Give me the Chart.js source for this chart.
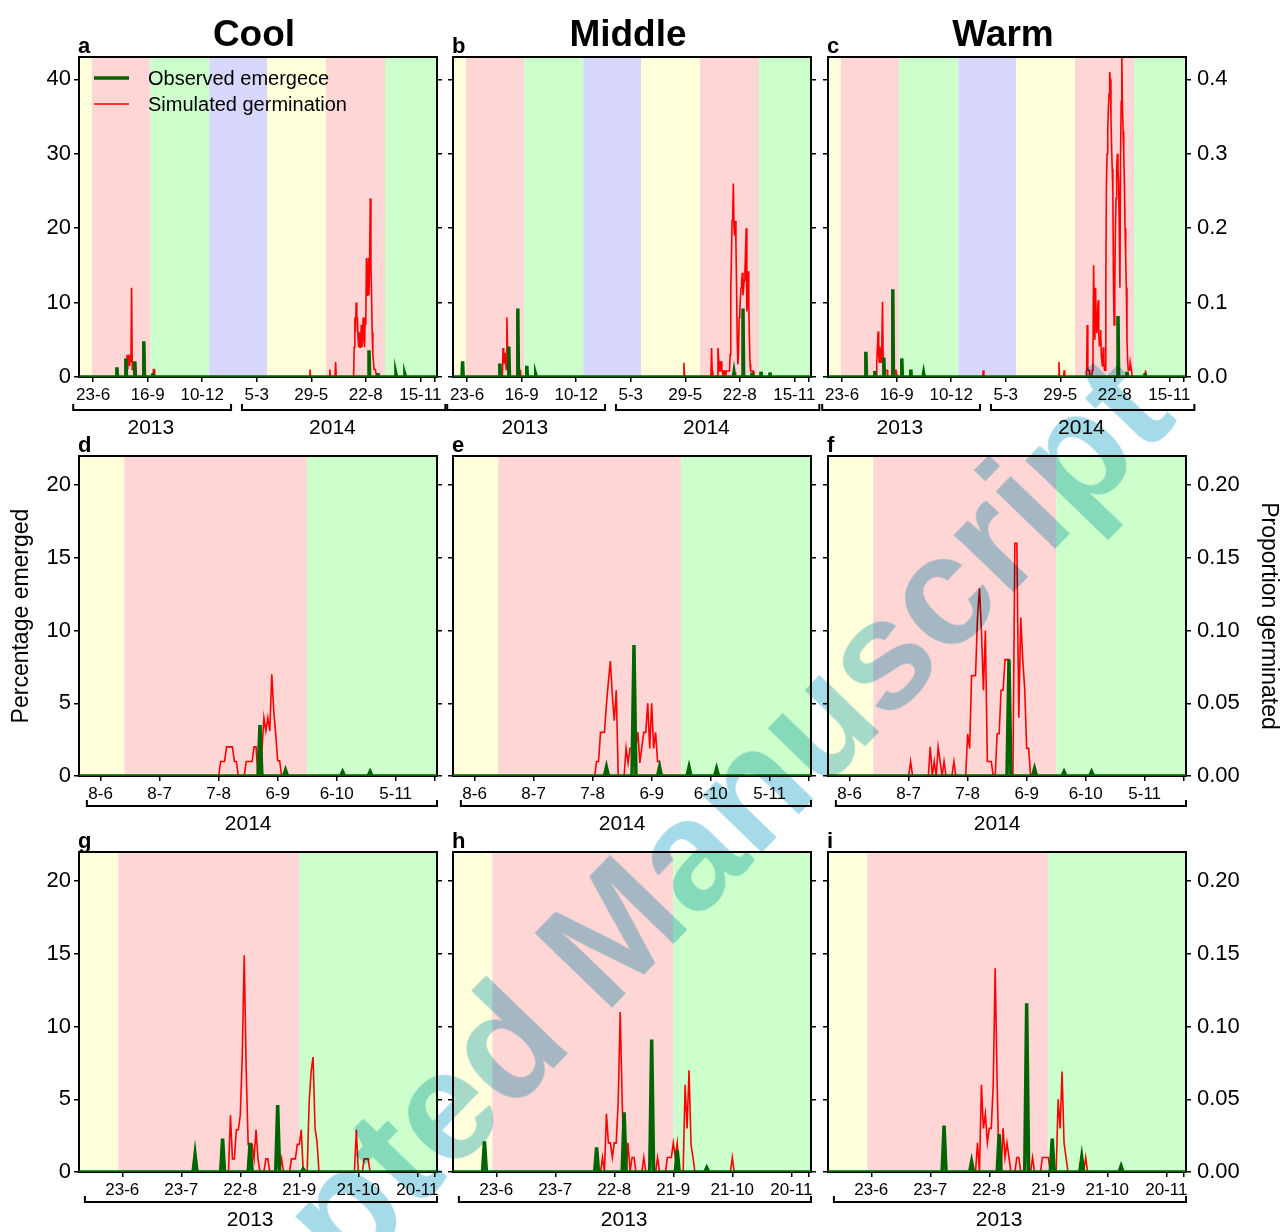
<!DOCTYPE html>
<html>
<head>
<meta charset="utf-8">
<script src="https://cdn.jsdelivr.net/npm/chart.js@4.4.1/dist/chart.umd.min.js"></script>
<style>
  body { margin: 0; background: #fff; width: 1282px; height: 1232px; position: relative; overflow: hidden; }
  canvas { position: absolute; }
  #wm {
    position: absolute; left: -4px; top: 1457px; white-space: nowrap;
    font: bold 155px 'Liberation Sans', Arial, sans-serif; line-height: 1;
    color: rgb(165, 218, 232); transform-origin: 0 0; transform: rotate(-46deg);
    mix-blend-mode: multiply; pointer-events: none;
  }
</style>
</head>
<body>
<div id="wm">Accepted Manuscript</div>
<script>
// x values are days: day 0 = 1 Jun 2013 (long runs and 2013 runs), 28 May 2014 (2014 runs)
const longTickDays = [22, 107, 192, 277, 362, 447, 532, 554];
const longTickLabels = ['23-6', '16-9', '10-12', '5-3', '29-5', '22-8', '15-11', ''];
const tickDays2014 = [11, 41, 71, 101, 131, 161, 181];
const tickLabels2014 = ['8-6', '8-7', '7-8', '6-9', '6-10', '5-11', ''];
const tickDays2013 = [22, 52, 82, 112, 142, 172, 181];
const tickLabels2013 = ['23-6', '23-7', '22-8', '21-9', '21-10', '20-11', ''];

const yTicksLong = [0, 10, 20, 30, 40];
const y1TicksLong = [0, 0.1, 0.2, 0.3, 0.4];
const yTicksShort = [0, 5, 10, 15, 20];
const y1TicksShort = [0, 0.05, 0.1, 0.15, 0.2];

// season bands: edges in days and fill colours
const YEL = 'rgb(255,255,220)', PNK = 'rgb(255,214,214)', GRN = 'rgb(204,255,204)', BLU = 'rgb(216,216,255)';
const seasonEdgesLong = [0, 20, 111, 203, 293, 385, 477, 558];
const seasonColorsLong = [YEL, PNK, GRN, BLU, YEL, PNK, GRN];
const seasonEdges2014 = [0, 23, 116, 182];
const seasonEdges2013 = [0, 20, 112, 182];
const seasonColorsShort = [YEL, PNK, GRN];

// year brackets: [from day, to day, label day, text]
const bracketsLong = [[-9, 237, 112, '2013'], [254, 571, 395, '2014']];
const brackets2014 = [[4, 182, 86, '2014']];
const brackets2013 = [[3, 182, 87, '2013']];

// observed emergence (%): [day, value]
const obsCool = [[59, 1.3], [73, 2.5], [87, 2.1], [101, 4.8], [115, 0.5], [452, 3.6], [466, 0.5], [494, 0.4], [508, 0.3]];
const obsMiddle = [[15, 2.1], [73, 1.8], [87, 4.1], [101, 9.2], [115, 1.5], [129, 0.3], [438, 0.6], [452, 9.2], [466, 0.6], [480, 0.7], [494, 0.6]];
const obsWarm = [[59, 3.4], [73, 0.8], [87, 2.6], [101, 11.8], [115, 2.5], [129, 1.0], [149, 0.5], [452, 8.2], [466, 0.7], [494, 0.5]];
const obsCool14 = [[92, 3.5], [105, 0.4], [134, 0.3], [148, 0.3]];
const obsMiddle14 = [[78, 0.6], [92, 9], [105, 0.6], [120, 0.6], [134, 0.5]];
const obsWarm14 = [[92, 8], [105, 0.5], [120, 0.3], [134, 0.3]];
const obsCool13 = [[59, 1.2], [73, 2.3], [87, 2], [101, 4.6], [114, 0.2]];
const obsMiddle13 = [[16, 2.1], [73, 1.7], [87, 4.1], [101, 9.1], [114, 1.5], [129, 0.3]];
const obsWarm13 = [[59, 3.2], [73, 0.7], [87, 2.6], [101, 11.6], [114, 2.3], [129, 1.0], [149, 0.4]];

// simulated germination (proportion): [first day, daily values]
const simCool = [
  [75, [0.03, 0.01, 0.03, 0.02, 0.015, 0.03, 0.02, 0.12, 0.01, 0.01, 0.01]],
  [116, [0.01, 0.01]],
  [360, [0.01]],
  [391, [0.01]],
  [400, [0.02]],
  [429, [0.04, 0.08, 0.06, 0.10, 0.08, 0.08, 0.05, 0.04, 0.06, 0.04, 0.05, 0.07, 0.04, 0.06, 0.08, 0.05, 0.04, 0.08,
         0.07, 0.16, 0.11, 0.12, 0.16, 0.11, 0.16, 0.24, 0.15, 0.11, 0.06, 0.03, 0.02, 0.01, 0.01, 0.01, 0.005]]
];
const simMiddle = [
  [78, [0.039, 0.019, 0.019, 0.033, 0.02, 0.01, 0.08, 0.039, 0.009, 0.009, 0.009]],
  [103, [0.009, 0.009, 0.009]],
  [360, [0.019]],
  [403, [0.039, 0.008]],
  [413, [0.039, 0.026, 0.008, 0.021, 0.008, 0.021, 0.008, 0.008, 0, 0.008, 0.008, 0.008, 0, 0.008, 0.008, 0.008,
         0.008, 0.008, 0.008, 0.03, 0.12, 0.16, 0.21, 0.22, 0.26, 0.2, 0.19, 0.21, 0.18, 0.12, 0.05, 0.017, 0.03,
         0.08, 0.09, 0.106, 0.12, 0.13, 0.14, 0.11, 0.12, 0.13, 0.14, 0.17, 0.2, 0.088, 0.1, 0.142, 0.097, 0.05,
         0.017, 0.008, 0.008, 0.008, 0.008, 0.008]]
];
const simWarm = [
  [76, [0.02, 0.04, 0.061, 0.03, 0.02, 0.041, 0.03, 0.02, 0.05, 0.101, 0.023, 0.01, 0.009, 0.009, 0.009, 0.009, 0.009]],
  [105, [0.009, 0.009, 0.009]],
  [242, [0.009]],
  [360, [0.02]],
  [368, [0.009]],
  [404, [0.07, 0.009, 0.009, 0.009]],
  [412, [0.009, 0.03, 0.15, 0.08, 0.05, 0.12, 0.08, 0.059, 0.08, 0.103, 0.06, 0.041, 0.05, 0.063, 0.03, 0.02, 0.014,
         0.04, 0.02, 0.009, 0.009, 0.12, 0.26, 0.3, 0.33, 0.36, 0.38, 0.41, 0.4, 0.35, 0.31, 0.28, 0.25, 0.12, 0.07,
         0.12, 0.2, 0.24, 0.28, 0.3, 0.28, 0.26, 0.2, 0.12, 0.3, 0.37, 0.43, 0.36, 0.33, 0.3, 0.26, 0.2, 0.16, 0.12,
         0.05, 0.023, 0.009, 0.009, 0.009, 0.02, 0.02, 0.009]],
  [495, [0.009]]
];
const simCool14 = [
  [72, [0.01, 0.01, 0.01, 0.02, 0.02, 0.02, 0.02, 0.01, 0.01]],
  [85, [0.01, 0.01, 0.01, 0.01, 0.02, 0.02]],
  [93, [0.017, 0.04, 0.031, 0.04, 0.031, 0.07, 0.045, 0.029, 0.0105, 0.0105]]
];
const simMiddle14 = [
  [73, [0.01, 0.01, 0.03, 0.03, 0.03, 0.049, 0.065, 0.079, 0.055, 0.038, 0.059]],
  [88, [0.019, 0.009, 0.019, 0.019, 0.01, 0.02, 0.03, 0.009, 0.02, 0.03, 0.03, 0.05, 0.019, 0.05, 0.019, 0.03, 0.01, 0.01]]
];
const simWarm14 = [
  [42, [0.01]],
  [52, [0.02, 0, 0.01, 0, 0.02, 0.01]],
  [59, [0.01]],
  [64, [0.01]],
  [71, [0.029, 0.019, 0.069, 0.069, 0.069, 0.109, 0.129, 0.1, 0.059, 0.1, 0.01, 0.01, 0.01, 0, 0, 0.029, 0.029,
        0.059, 0.059, 0.08, 0.08, 0.08, 0, 0, 0.16, 0.16, 0.04, 0.109, 0.08, 0.06, 0.019, 0.019]]
];
const simCool13 = [
  [77, [0.039, 0.009, 0.009, 0.029, 0.029, 0.039, 0.08, 0.149, 0.07, 0.019, 0.019, 0.019, 0.009, 0.029, 0.009]],
  [95, [0.009, 0.009]],
  [103, [0.009]],
  [108, [0.009, 0.009, 0.009, 0.019, 0.019, 0.029]],
  [117, [0.048, 0.069, 0.079, 0.03, 0.021]],
  [141, [0.029]],
  [145, [0.009, 0.009, 0.009]]
];
const simMiddle13 = [
  [76, [0.01]],
  [78, [0.04, 0.02, 0.02, 0.01, 0.02, 0.02, 0.049, 0.11, 0.049]],
  [89, [0.02]],
  [91, [0.01, 0.01]],
  [97, [0.01]],
  [104, [0.01]],
  [109, [0.01, 0.01, 0.01, 0.02, 0.01, 0.02]],
  [118, [0.06, 0.03, 0.07, 0.019, 0.01]],
  [142, [0.01]]
];
const simWarm13 = [
  [76, [0.02]],
  [78, [0.06, 0.03, 0.04, 0.02, 0.03, 0.03, 0.06, 0.14, 0.06]],
  [89, [0.03, 0.01, 0.02, 0.01]],
  [96, [0.01, 0.01]],
  [104, [0.01]],
  [109, [0.01, 0.01, 0.01, 0.01]],
  [117, [0.05, 0.03, 0.069, 0.02, 0.01]],
  [131, [0.01]]
];

const FONT = "'Liberation Sans', Arial, Helvetica, sans-serif";
Chart.defaults.font.family = FONT;
Chart.defaults.color = '#000';

const AXL = 79, AXR = 100, PADT = 57, AXB = 66, PW = 358, PH = 320;
const colLeft = [79, 453, 828];
const rowTop = [57, 456, 852];

// daily series: zero on days without a value
function runsToPoints(runs, end) {
  const pts = [{x: 0, y: 0}];
  runs.forEach(([start, vals]) => {
    pts.push({x: start - 1, y: 0});
    vals.forEach((v, i) => pts.push({x: start + i, y: v}));
    pts.push({x: start + vals.length, y: 0});
  });
  pts.push({x: end, y: 0});
  return pts;
}

function yScale(pos, max, ticks, fmt, labels, title) {
  return {
    type: 'linear', position: pos, min: 0, max: max,
    afterBuildTicks: s => { s.ticks = ticks.map(v => ({value: v})); },
    afterFit: s => { s.width = pos === 'left' ? AXL : AXR; },
    grid: {drawOnChartArea: false, drawTicks: true, tickLength: 5, color: '#000', lineWidth: 1.5},
    border: {display: true, color: '#000', width: 2},
    ticks: {display: labels, callback: fmt, font: {size: 22}, padding: pos === 'left' ? 3 : 6},
    title: title ? {display: true, text: title, font: {size: 23}, padding: {top: pos === 'left' ? 8 : 4, bottom: 0}} : {display: false}
  };
}

function makePanel(p) {
  const cv = document.createElement('canvas');
  cv.width = AXL + PW + AXR;
  cv.height = PADT + PH + AXB;
  cv.style.left = (p.left - AXL) + 'px';
  cv.style.top = (p.top - PADT) + 'px';
  document.body.appendChild(cv);

  const bands = {
    id: 'bands',
    beforeDraw(chart) {
      const {ctx, chartArea: a, scales: {x}} = chart;
      ctx.save();
      for (let i = 0; i < p.colors.length; i++) {
        const x0 = x.getPixelForValue(p.edges[i]);
        const x1 = x.getPixelForValue(p.edges[i + 1]);
        ctx.fillStyle = p.colors[i];
        ctx.fillRect(x0, a.top, x1 - x0, a.bottom - a.top);
      }
      ctx.restore();
    }
  };

  const decor = {
    id: 'decor',
    afterDraw(chart) {
      const {ctx, chartArea: a, scales: {x}} = chart;
      ctx.save();
      // top edge of the frame
      ctx.strokeStyle = '#000';
      ctx.lineWidth = 2;
      ctx.beginPath();
      ctx.moveTo(a.left - 1, a.top);
      ctx.lineTo(a.right + 1, a.top);
      ctx.stroke();

      ctx.fillStyle = '#000';
      ctx.font = 'bold 22px ' + FONT;
      ctx.textAlign = 'left';
      ctx.textBaseline = 'alphabetic';
      ctx.fillText(p.letter, a.left - 1, a.top - 4);

      if (p.title) {
        ctx.font = 'bold 37px ' + FONT;
        ctx.textAlign = 'center';
        ctx.fillText(p.title, (a.left + a.right) / 2 - 4, a.top - 11);
      }

      if (p.legend) {
        const ds = chart.data.datasets;
        ctx.font = '20px ' + FONT;
        ctx.textAlign = 'left';
        ctx.textBaseline = 'middle';
        ds.forEach((d, i) => {
          const yy = a.top + 21 + i * 26;
          ctx.strokeStyle = d.borderColor;
          ctx.lineWidth = d.borderWidth;
          ctx.beginPath();
          ctx.moveTo(a.left + 15, yy);
          ctx.lineTo(a.left + 50, yy);
          ctx.stroke();
          ctx.fillStyle = '#000';
          ctx.fillText(d.label, a.left + 69, yy + 1);
        });
      }

      // year brackets under the date labels
      ctx.strokeStyle = '#000';
      ctx.lineWidth = 2;
      ctx.fillStyle = '#000';
      ctx.font = '21px ' + FONT;
      ctx.textAlign = 'center';
      ctx.textBaseline = 'middle';
      p.brackets.forEach(([d0, d1, dl, txt]) => {
        const x0 = x.getPixelForValue(d0), x1 = x.getPixelForValue(d1);
        const by = a.bottom + p.bracketGap;
        ctx.beginPath();
        ctx.moveTo(x0, by - 6);
        ctx.lineTo(x0, by);
        ctx.lineTo(x1, by);
        ctx.lineTo(x1, by - 6);
        ctx.stroke();
        ctx.fillText(txt, x.getPixelForValue(dl), by + 18);
      });
      ctx.restore();
    }
  };

  new Chart(cv, {
    type: 'line',
    data: {
      datasets: [
        {label: 'Observed emergece', data: runsToPoints(p.obs.map(([d, v]) => [d, [v]]), p.xMax), yAxisID: 'y',
         borderColor: 'rgb(0,100,0)', borderWidth: 3.5, pointRadius: 0, tension: 0},
        {label: 'Simulated germination', data: runsToPoints(p.sim, p.xMax), yAxisID: 'y1',
         borderColor: 'rgb(255,0,0)', borderWidth: 1.6, pointRadius: 0, tension: 0}
      ]
    },
    options: {
      responsive: false, animation: false, devicePixelRatio: 1,
      layout: {padding: {top: PADT, left: 0, right: 0, bottom: 0}},
      plugins: {legend: {display: false}, tooltip: {enabled: false}},
      scales: {
        x: {
          type: 'linear', min: 0, max: p.xMax,
          afterBuildTicks: s => { s.ticks = p.tickDays.map(v => ({value: v})); },
          afterFit: s => { s.height = AXB; },
          ticks: {autoSkip: false, maxRotation: 0, callback: (v, i) => p.tickLabels[i], font: {size: 17}, padding: 3},
          grid: {drawOnChartArea: false, tickLength: 5, color: '#000', lineWidth: 1.5},
          border: {color: '#000', width: 2}
        },
        y: yScale('left', p.yMax, p.yTicks, v => String(v), p.col === 0, p.yTitle),
        y1: yScale('right', p.yMax / 100, p.y1Ticks, v => v.toFixed(p.row === 0 ? 1 : 2), p.col === 2, p.y1Title)
      }
    },
    plugins: [bands, decor]
  });
}

const rows = [
  {xMax: 558, tickDays: longTickDays, tickLabels: longTickLabels, edges: seasonEdgesLong, colors: seasonColorsLong,
   brackets: bracketsLong, bracketGap: 33, yMax: 43, yTicks: yTicksLong, y1Ticks: y1TicksLong,
   obs: [obsCool, obsMiddle, obsWarm], sim: [simCool, simMiddle, simWarm], letters: ['a', 'b', 'c']},
  {xMax: 182, tickDays: tickDays2014, tickLabels: tickLabels2014, edges: seasonEdges2014, colors: seasonColorsShort,
   brackets: brackets2014, bracketGap: 30, yMax: 22, yTicks: yTicksShort, y1Ticks: y1TicksShort,
   obs: [obsCool14, obsMiddle14, obsWarm14], sim: [simCool14, simMiddle14, simWarm14], letters: ['d', 'e', 'f']},
  {xMax: 182, tickDays: tickDays2013, tickLabels: tickLabels2013, edges: seasonEdges2013, colors: seasonColorsShort,
   brackets: brackets2013, bracketGap: 30, yMax: 22, yTicks: yTicksShort, y1Ticks: y1TicksShort,
   obs: [obsCool13, obsMiddle13, obsWarm13], sim: [simCool13, simMiddle13, simWarm13], letters: ['g', 'h', 'i']}
];
const titles = ['Cool', 'Middle', 'Warm'];

rows.forEach((r, ri) => {
  for (let ci = 0; ci < 3; ci++) {
    makePanel(Object.assign({}, r, {
      row: ri, col: ci, left: colLeft[ci], top: rowTop[ri],
      letter: r.letters[ci], title: ri === 0 ? titles[ci] : null, legend: ri === 0 && ci === 0,
      obs: r.obs[ci], sim: r.sim[ci],
      yTitle: ri === 1 && ci === 0 ? 'Percentage emerged' : null,
      y1Title: ri === 1 && ci === 2 ? 'Proportion germinated' : null
    }));
  }
});
document.body.appendChild(document.getElementById('wm'));
</script>
</body>
</html>
